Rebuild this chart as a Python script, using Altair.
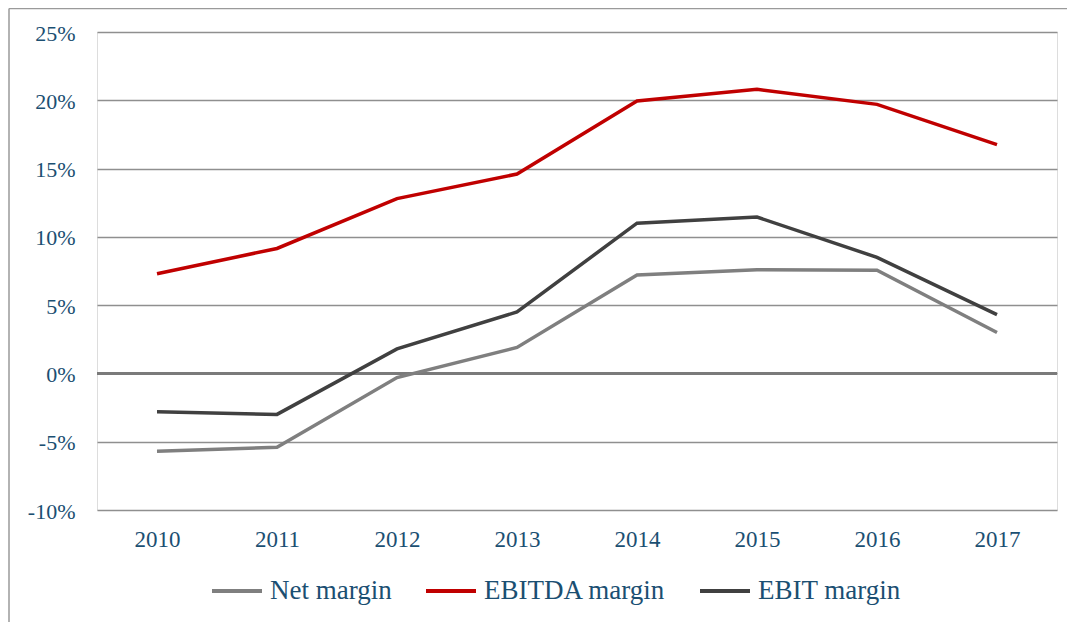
import altair as alt
import pandas as pd

years = ["2010", "2011", "2012", "2013", "2014", "2015", "2016", "2017"]
net_margin = [-5.7, -5.4, -0.3, 1.9, 7.2, 7.6, 7.55, 3.0]
ebitda_margin = [7.3, 9.15, 12.8, 14.6, 19.95, 20.8, 19.7, 16.75]
ebit_margin = [-2.8, -3.0, 1.8, 4.5, 11.0, 11.45, 8.5, 4.3]

series_names = ["Net margin", "EBITDA margin", "EBIT margin"]
series_colors = ["#7f7f7f", "#c00000", "#404040"]
y_ticks = [-10, -5, 0, 5, 10, 15, 20, 25]

rows = []
for name, vals in zip(series_names, [net_margin, ebitda_margin, ebit_margin]):
    for yr, v in zip(years, vals):
        rows.append({"year": yr, "value": v, "series": name})
df = pd.DataFrame(rows)

TEXT = "#1b4f72"
FONT = "Liberation Serif"

base = alt.Chart(df)

zero = base.mark_rule(color="#7a7a7a", strokeWidth=2).encode(y=alt.datum(0))

lines = base.mark_line(strokeWidth=3.5).encode(
    x=alt.X("year:N", sort=years, title=None,
            scale=alt.Scale(type="point", padding=0.5),
            axis=alt.Axis(labelAngle=0, labelFontSize=23, labelPadding=18,
                          labelColor=TEXT, labelFont=FONT, domain=False,
                          ticks=False, grid=False)),
    y=alt.Y("value:Q", title=None,
            scale=alt.Scale(domain=[-10, 25], nice=False, zero=False),
            axis=alt.Axis(values=y_ticks, labelExpr="datum.value + '%'",
                          labelFontSize=22, labelPadding=22, labelColor=TEXT,
                          labelFont=FONT, domain=False, ticks=False,
                          grid=True, gridColor="#8f8f8f", gridWidth=1.3,
                          labelBaseline="middle", labelOffset=1)),
    color=alt.Color("series:N", sort=series_names,
                    scale=alt.Scale(domain=series_names, range=series_colors),
                    legend=alt.Legend(title=None, orient="none",
                                      direction="horizontal",
                                      legendX=113, legendY=532,
                                      symbolType="stroke", symbolSize=2500,
                                      symbolStrokeWidth=4, labelOffset=6,
                                      columnPadding=26,
                                      labelFontSize=27, labelColor=TEXT,
                                      labelFont=FONT, labelLimit=400)),
    order=alt.Order("year:N"),
)

frame_data = alt.Data(values=[{"a": 1}])
frame_left = alt.Chart(frame_data).mark_rule(color="#9a9a9a", strokeWidth=1.5).encode(
    x=alt.value(-88), y=alt.value(-23.5), y2=alt.value(620))
frame_top = alt.Chart(frame_data).mark_rule(color="#9a9a9a", strokeWidth=1.5).encode(
    x=alt.value(-88), x2=alt.value(980), y=alt.value(-23.5))

chart = alt.layer(zero, lines, frame_left, frame_top).properties(
    width=960, height=478,
    autosize=alt.AutoSizeParams(type="none"),
    padding={"left": 89, "top": 24, "right": 10, "bottom": 112},
).configure_view(
    stroke="#8a8a8a", strokeWidth=2
).configure(background="white")

chart.save("out.html", embed_options={"renderer": "svg", "actions": False})
